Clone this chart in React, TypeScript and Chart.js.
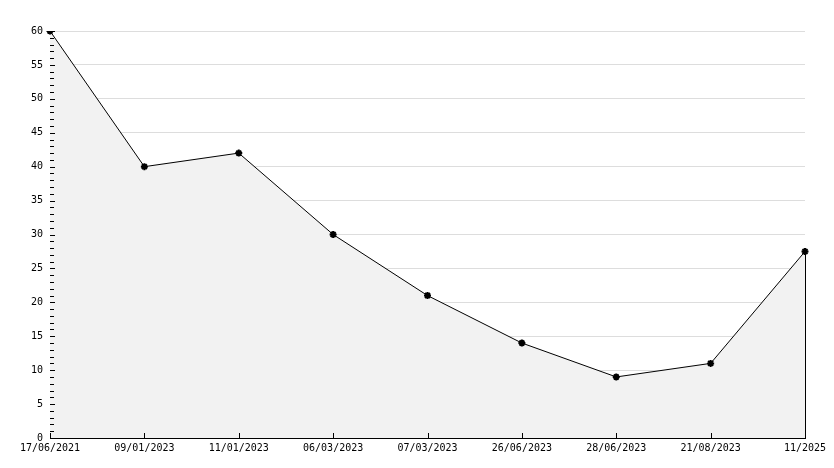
import React, { useEffect, useRef } from "react";
import { Chart, registerables } from "chart.js";

Chart.register(...registerables);

const categories = [
  "17/06/2021",
  "09/01/2023",
  "11/01/2023",
  "06/03/2023",
  "07/03/2023",
  "26/06/2023",
  "28/06/2023",
  "21/08/2023",
  "11/2025",
];
const values = [60, 40, 42, 30, 21, 14, 9, 11, 27.5];
const yMin = 0;
const yMax = 60;
const yStep = 5;
const yMinorStep = 1;

const FONT = "'DejaVu Sans Mono', monospace";

const tickPlugin = {
  id: "innerTicks",
  afterDatasetsDraw(chart: any) {
    const ctx = chart.ctx;
    const x = chart.scales.x;
    const y = chart.scales.y;
    const area = chart.chartArea;
    ctx.save();
    ctx.strokeStyle = "#000";
    ctx.lineWidth = 1;
    ctx.beginPath();
    // right edge of fill
    const meta = chart.getDatasetMeta(0);
    const last = meta.data[meta.data.length - 1];
    if (last) {
      const lx = Math.round(last.x) + 0.5;
      ctx.moveTo(lx, last.y);
      ctx.lineTo(lx, area.bottom);
    }
    // y ticks (minor + major) inside
    for (let v = yMin; v <= yMax; v += yMinorStep) {
      const py = Math.round(y.getPixelForValue(v)) + 0.5;
      const len = v % yStep === 0 ? 5 : 4;
      ctx.moveTo(area.left, py);
      ctx.lineTo(area.left + len, py);
    }
    // x ticks inside
    for (let i = 0; i < categories.length; i++) {
      const px = Math.round(x.getPixelForValue(i)) + 0.5;
      ctx.moveTo(px, area.bottom);
      ctx.lineTo(px, area.bottom - 5);
    }
    ctx.stroke();
    ctx.restore();
  },
};

export default function App() {
  const ref = useRef<HTMLCanvasElement | null>(null);
  useEffect(() => {
    if (!ref.current) return;
    const chart = new Chart(ref.current, {
      type: "line",
      data: {
        labels: categories,
        datasets: [
          {
            data: values,
            borderColor: "#000",
            borderWidth: 1,
            backgroundColor: "#f2f2f2",
            fill: "origin",
            tension: 0,
            pointStyle: "star",
            pointRadius: 3.5,
            pointBorderWidth: 2,
            pointBorderColor: "#000",
            pointBackgroundColor: "#000",
          },
        ],
      },
      options: {
        responsive: false,
        animation: false,
        layout: { padding: { top: 31, right: 29, left: 0, bottom: 0 } },
        plugins: {
          legend: { display: false },
          tooltip: { enabled: false },
        },
        scales: {
          x: {
            type: "category",
            offset: false,
            grid: { display: false, drawTicks: false },
            border: { display: true, color: "#000", width: 1 },
            ticks: {
              color: "#000",
              font: { family: FONT, size: 10 },
              padding: 4,
              maxRotation: 0,
              autoSkip: false,
            },
            afterFit(scale: any) {
              scale.height = 30;
              scale.paddingLeft = 0;
              scale.paddingRight = 0;
            },
          },
          y: {
            min: yMin,
            max: yMax,
            grid: { color: "#dddddd", drawTicks: false },
            border: { display: true, color: "#000", width: 1 },
            ticks: {
              stepSize: yStep,
              color: "#000",
              font: { family: FONT, size: 10 },
              padding: 7,
            },
            afterFit(scale: any) {
              scale.width = 50;
              scale.paddingTop = 0;
              scale.paddingBottom = 0;
            },
          },
        },
      },
      plugins: [tickPlugin],
    });
    return () => chart.destroy();
  }, []);
  return (
    <div style={{ position: "fixed", left: 0, top: 0, width: 834, height: 468, background: "#fff" }}>
      <canvas ref={ref} width={834} height={468} />
    </div>
  );
}
